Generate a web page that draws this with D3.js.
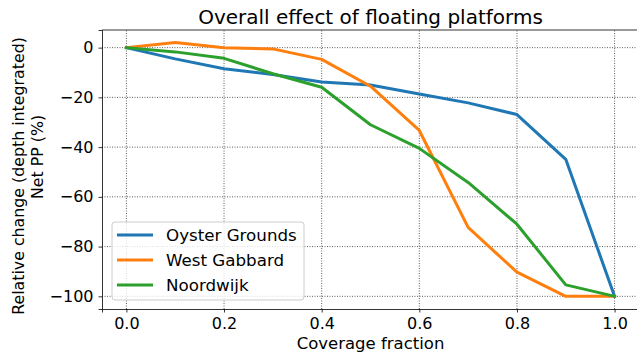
<!DOCTYPE html>
<html>
<head>
<meta charset="utf-8">
<script src="https://cdn.jsdelivr.net/npm/d3@7"></script>
<style>
  body { margin: 0; background: #fff; }
  svg { font-family: "DejaVu Sans", sans-serif; }
</style>
</head>
<body>
<div id="chart"></div>
<script>
// coverage fraction on the x axis
var coverage = [0, 0.1, 0.2, 0.3, 0.4, 0.5, 0.6, 0.7, 0.8, 0.9, 1.0];

// relative change in net PP (%) per site
var oysterGrounds = [0, -4.5, -8.5, -10.8, -13.8, -15, -18.6, -22.2, -26.9, -44.9, -100];
var westGabbard   = [0, 2.1, 0, -0.5, -4.7, -15.5, -33.3, -72.3, -90.3, -100, -100];
var noordwijk     = [0, -1.7, -4.3, -10.5, -15.9, -31, -40.5, -54.2, -71, -95.4, -100];

var seriesNames = ["Oyster Grounds", "West Gabbard", "Noordwijk"];
var seriesColors = ["#1f77b4", "#ff7f0e", "#2ca02c"];

var xTicks = [0, 0.2, 0.4, 0.6, 0.8, 1.0];
var yTicks = [0, -20, -40, -60, -80, -100];

var W = 637, H = 357;
var margin = {top: 30, right: -2, bottom: 48, left: 102};

var svg = d3.select("#chart").append("svg")
    .attr("width", W)
    .attr("height", H);

var x = d3.scaleLinear().domain([-0.05, 1.05]).range([margin.left, W - margin.right]);
var y = d3.scaleLinear().domain([-105.1, 7.1]).range([H - margin.bottom, margin.top]);

var fmtMinus = function(s) { return s.replace("-", "\u2212"); };

// grid lines
var grid = svg.append("g");
grid.selectAll(".vg").data(xTicks).enter().append("line")
    .attr("x1", function(d) { return x(d); }).attr("x2", function(d) { return x(d); })
    .attr("y1", y.range()[0]).attr("y2", y.range()[1])
    .attr("stroke", "#000").attr("stroke-width", 0.8).attr("stroke-opacity", 0.8)
    .attr("stroke-dasharray", "1,1.5");
grid.selectAll(".hg").data(yTicks).enter().append("line")
    .attr("y1", function(d) { return y(d); }).attr("y2", function(d) { return y(d); })
    .attr("x1", x.range()[0]).attr("x2", x.range()[1])
    .attr("stroke", "#000").attr("stroke-width", 0.8).attr("stroke-opacity", 0.8)
    .attr("stroke-dasharray", "1,1.5");

// axes
var xAxis = svg.append("g")
    .attr("transform", "translate(0," + y.range()[0] + ")")
    .call(d3.axisBottom(x).tickValues(xTicks).tickFormat(d3.format(".1f")).tickSize(3.5).tickPadding(5));
var yAxis = svg.append("g")
    .attr("transform", "translate(" + x.range()[0] + ",0)")
    .call(d3.axisLeft(y).tickValues(yTicks).tickFormat(function(d) { return fmtMinus(String(d)); }).tickSize(3.5).tickPadding(5));

[xAxis, yAxis].forEach(function(a) {
  a.select(".domain").attr("stroke", "#000").attr("stroke-width", 0.8);
  a.selectAll(".tick line").attr("stroke", "#000").attr("stroke-width", 0.8);
  a.selectAll(".tick text").attr("fill", "#000").style("font-size", "16px").style("font-family", "DejaVu Sans");
});

// top spine
svg.append("line")
    .attr("x1", x.range()[0]).attr("x2", x.range()[1])
    .attr("y1", y.range()[1]).attr("y2", y.range()[1])
    .attr("stroke", "#000").attr("stroke-width", 0.8);

// lines
var allSeries = [oysterGrounds, westGabbard, noordwijk];
var line = d3.line()
    .x(function(d, i) { return x(coverage[i]); })
    .y(function(d) { return y(d); });

svg.append("g").selectAll("path")
    .data(allSeries)
    .enter()
    .append("path")
      .attr("d", line)
      .attr("fill", "none")
      .attr("stroke", function(d, i) { return seriesColors[i]; })
      .attr("stroke-width", 3)
      .attr("stroke-linejoin", "round")
      .attr("stroke-linecap", "square");

// title and labels
var cx = (x.range()[0] + x.range()[1]) / 2;
svg.append("text")
    .attr("x", cx).attr("y", 24)
    .attr("text-anchor", "middle")
    .style("font-size", "20px")
    .text("Overall effect of floating platforms");

svg.append("text")
    .attr("x", cx).attr("y", 349)
    .attr("text-anchor", "middle")
    .style("font-size", "16.5px")
    .text("Coverage fraction");

// y label, two lines
svg.append("text")
    .attr("transform", "translate(24,176) rotate(-90)")
    .attr("text-anchor", "middle")
    .style("font-size", "15.8px")
    .text("Relative change (depth integrated)");
svg.append("text")
    .attr("transform", "translate(43,157) rotate(-90)")
    .attr("text-anchor", "middle")
    .style("font-size", "15.8px")
    .text("Net PP (%)");

// legend
var legend = svg.append("g");
legend.append("rect")
    .attr("x", 112).attr("y", 222)
    .attr("width", 192).attr("height", 78)
    .attr("rx", 3)
    .attr("fill", "#fff").attr("fill-opacity", 0.8)
    .attr("stroke", "#ccc").attr("stroke-width", 1);

var items = legend.selectAll(".item").data(seriesNames).enter().append("g")
    .attr("transform", function(d, i) { return "translate(0," + (235 + i * 25) + ")"; });
items.append("line")
    .attr("x1", 117).attr("x2", 153)
    .attr("stroke", function(d, i) { return seriesColors[i]; })
    .attr("stroke-width", 3);
items.append("text")
    .attr("x", 166).attr("dy", "0.35em")
    .style("font-size", "16.7px")
    .text(function(d) { return d; });
</script>
</body>
</html>
